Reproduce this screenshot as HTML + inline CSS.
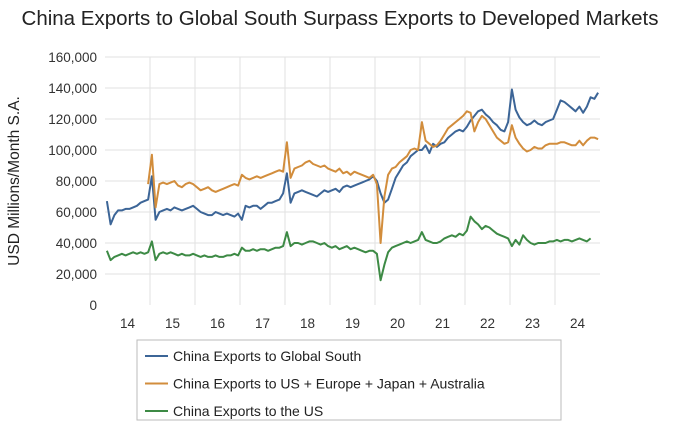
<!DOCTYPE html>
<html><head><meta charset="utf-8"><style>
body{margin:0;background:#fff;width:679px;height:427px;overflow:hidden;font-family:"Liberation Sans",sans-serif}
</style></head><body>
<svg id="c" width="679" height="427" style="position:absolute;left:0;top:0">
<text x="340" y="25" text-anchor="middle" font-size="20.5" fill="#222">China Exports to Global South Surpass Exports to Developed Markets</text>
<text transform="translate(19,181) rotate(-90)" text-anchor="middle" font-size="15.5" fill="#222">USD Millions/Month S.A.</text>
<g id="grid"></g><g id="lines"></g>
<rect x="137" y="340" width="424" height="80" fill="#fff" stroke="#bbb"/>
</svg>
<script>
const yTicks=[0,20000,40000,60000,80000,100000,120000,140000,160000];
const yearLabels=["14","15","16","17","18","19","20","21","22","23","24"];
const seriesNames=["China Exports to Global South","China Exports to US + Europe + Japan + Australia","China Exports to the US"];
const seriesColors=["#3c6597","#d28d3c","#3d8a45"];
const globalSouth=[67,52,58,61,61,62,62,63,64,66,67,68,
83,55,60,61,62,61,63,62,61,62,63,64,
62,60,59,58,58,60,59,58,59,58,57,59,
55,64,63,64,64,62,64,66,66,67,68,72,
85,66,72,73,74,73,72,71,70,72,74,73,
74,75,73,76,77,76,77,78,79,80,81,83,
80,72,66,68,75,82,86,90,92,96,98,100,
100,103,98,104,102,104,105,108,110,112,113,112,
115,119,122,125,126,123,121,118,116,113,112,118,
139,126,121,118,116,117,119,117,116,118,119,120,
126,132,131,129,127,125,128,124,128,134,133,137];
const developed=[null,null,null,null,null,null,null,null,null,null,null,78,
97,63,78,79,78,79,80,77,76,78,79,78,
76,74,75,76,74,73,74,75,76,77,78,77,
84,82,81,82,83,82,83,84,85,86,87,86,
105,82,88,89,90,92,93,91,90,89,90,88,
87,86,88,85,86,84,86,85,84,83,82,84,
78,40,70,84,88,89,92,94,96,100,101,100,
118,106,104,102,103,106,110,114,116,118,120,122,
125,124,112,118,122,120,116,112,108,106,104,105,
116,108,104,101,99,100,102,101,101,103,104,104,
104,105,105,104,103,103,106,103,106,108,108,107];
const usOnly=[35,29,31,32,33,32,33,34,33,34,33,34,
41,29,33,34,33,34,33,32,33,32,32,33,
32,31,32,31,31,32,31,31,32,32,33,32,
37,35,35,36,35,36,36,35,36,37,37,38,
47,38,40,40,39,40,41,41,40,39,40,38,
37,38,36,37,38,36,37,36,35,34,35,35,
33,16,26,34,37,38,39,40,41,40,41,42,
47,42,41,40,40,41,43,44,45,44,46,45,
48,57,54,52,49,51,50,48,46,45,44,43,
38,42,39,45,42,40,39,40,40,40,41,41,
42,41,42,42,41,42,43,42,41,43,null,null];
const NS="http://www.w3.org/2000/svg";
const X0=105,X1=600,Y0=305,Y1=57;
const xs=i=>X0+(i+0.5)/132*(X1-X0);
const ys=v=>Y0-v/160000*(Y0-Y1);
function mk(t,a,p){const e=document.createElementNS(NS,t);for(const k in a)e.setAttribute(k,a[k]);p.appendChild(e);return e;}
const grid=document.getElementById('grid'),lines=document.getElementById('lines'),svg=document.getElementById('c');
yTicks.forEach(v=>{
 if(v>0){const l=mk('line',{x1:X0,x2:X1,y1:ys(v),y2:ys(v),stroke:'#e2e2e2'},grid);
 
 }
 const t=mk('text',{x:97,y:ys(v)+5,'text-anchor':'end','font-size':13.5,fill:'#333'},svg);
 t.textContent=v.toLocaleString('en-US');
 
 
});
yearLabels.forEach((y,k)=>{
 const x=X0+k*45*(X1-X0)/495;
 if(k>0){const l=mk('line',{x1:x,x2:x,y1:Y1,y2:Y0,stroke:'#e2e2e2'},grid);
 
 }
 const t=mk('text',{x:x+22.5,y:328,'text-anchor':'middle','font-size':13.5,fill:'#333'},svg);
 t.textContent=y;
 
 
});
[globalSouth,developed,usOnly].forEach((s,si)=>{
 let d='',pen=false;
 s.forEach((v,i)=>{if(v==null){pen=false;return;}d+=(pen?'L':'M')+xs(i).toFixed(1)+' '+ys(v*1000).toFixed(1);pen=true;});
 const p=mk('path',{d:d,fill:'none',stroke:seriesColors[si],'stroke-width':2,'stroke-linejoin':'round'},lines);
 
 
 const ly=356+si*27.5;
 const ll=mk('line',{x1:145,x2:168,y1:ly,y2:ly,stroke:seriesColors[si],'stroke-width':2},svg);
 
 
 const lt=mk('text',{x:173,y:ly+5,'font-size':14,fill:'#222'},svg);
 lt.textContent=seriesNames[si];
 
 
});
</script>
</body></html>
